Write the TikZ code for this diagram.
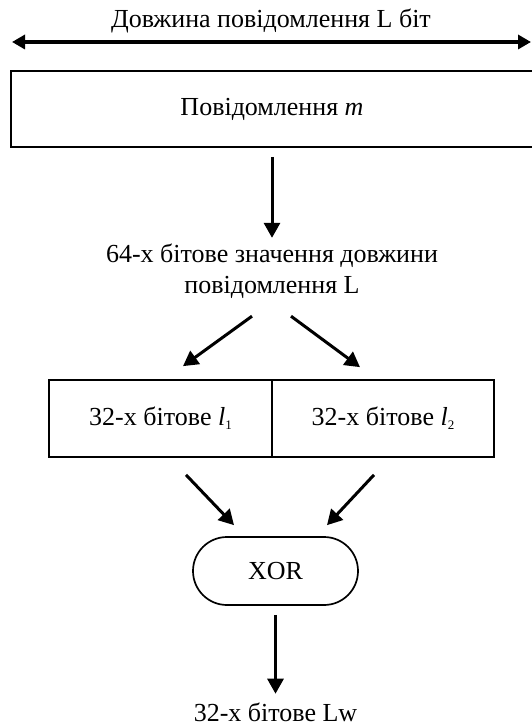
\documentclass[tikz,border=0pt]{standalone}
\usepackage{fontspec}
\setmainfont{Liberation Serif}
\usetikzlibrary{positioning,arrows.meta,shapes}

\newcommand{\lsub}[1]{\raisebox{-4pt}{\fontsize{13}{13}\selectfont #1}}

\begin{document}
\begin{tikzpicture}[x=1pt, y=-1pt, line width=1.7pt,
    font=\fontsize{26}{31}\selectfont,
    arr/.style={-{Triangle[length=15pt,width=16pt]}, line width=3pt},
    dblarr/.style={{Triangle[length=13pt,width=14pt]}-{Triangle[length=13pt,width=14pt]}, line width=3.5pt},
    box/.style={draw, rectangle, inner sep=0pt, align=center},
    label/.style={inner sep=0pt, align=center}]
\useasboundingbox (0,0) rectangle (531,727);

\node[box, minimum width=522pt, minimum height=76pt] (msg) at (272,109) {Повідомлення \textit{m}};
\node[label, above of=msg, node distance=88pt, xshift=-1pt] (title) {Довжина повідомлення L біт};
\coordinate (lenL) at (12,42);
\coordinate (lenR) at (531,42);
\node[label, below of=msg, node distance=162pt] (len) {64-х бітове значення довжини\\повідомлення L};
\node[box, below of=len, node distance=147.5pt, xshift=-111.5pt, minimum width=223pt, minimum height=77pt] (l1) {32-х бітове \textit{l}\lsub{1}};
\node[box, right of=l1, node distance=222.5pt, minimum width=222pt, minimum height=77pt] (l2) {32-х бітове \textit{l}\lsub{2}};
\node[draw, rounded rectangle, inner sep=0pt, minimum width=165pt, minimum height=68pt] (xor) at (275.5,571) {XOR};
\node[label, below of=xor, node distance=141pt] (out) {32-х бітове Lw};

\draw[dblarr] (lenL) -- (lenR);
\draw[arr] ([yshift=-9pt]msg.south) -- ([yshift=5pt]len.north);
\draw[arr] ([xshift=-20pt,yshift=-17pt]len.south) -- ([xshift=22.5pt,yshift=13pt]l1.north);
\draw[arr] ([xshift=19pt,yshift=-17pt]len.south) -- ([xshift=-23pt,yshift=12pt]l2.north);
\draw[arr] ([xshift=25.5pt,yshift=-17pt]l1.south) -- ([xshift=-41.5pt,yshift=11pt]xor.north);
\draw[arr] ([xshift=-9pt,yshift=-17pt]l2.south) -- ([xshift=51.5pt,yshift=11pt]xor.north);
\draw[arr] ([yshift=-9pt]xor.south) -- ([yshift=8pt]out.north);
\end{tikzpicture}
\end{document}
